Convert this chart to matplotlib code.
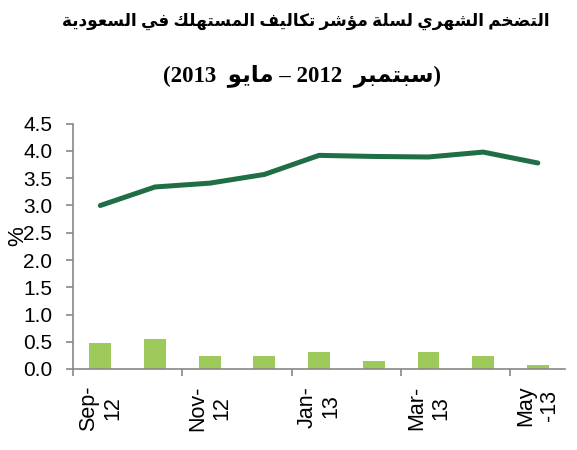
import numpy as np
import matplotlib
matplotlib.use("Agg")
import matplotlib.pyplot as plt

# data
months = ["Sep-\n12", "Oct-\n12", "Nov-\n12", "Dec-\n12", "Jan-\n13",
          "Feb-\n13", "Mar-\n13", "Apr-\n13", "May\n-13"]
monthly = [0.48, 0.55, 0.23, 0.23, 0.31, 0.15, 0.31, 0.23, 0.07]
annual = [3.00, 3.34, 3.41, 3.57, 3.92, 3.90, 3.89, 3.98, 3.78]
yticks = [0.0, 0.5, 1.0, 1.5, 2.0, 2.5, 3.0, 3.5, 4.0, 4.5]

title_words = ["التضخم", "الشهري", "لسلة", "مؤشر", "تكاليف", "المستهلك", "في", "السعودية"]
sub_from = "سبتمبر"
sub_to = "مايو"

# minimal Arabic shaping: base presentation form + number of forms
FORMS = {
    "ا": (0xFE8D, 2), "ب": (0xFE8F, 4), "ة": (0xFE93, 2), "ت": (0xFE95, 4),
    "خ": (0xFEA5, 4), "د": (0xFEA9, 2), "ر": (0xFEAD, 2), "س": (0xFEB1, 4),
    "ش": (0xFEB5, 4), "ض": (0xFEBD, 4), "ع": (0xFEC9, 4), "ف": (0xFED1, 4),
    "ك": (0xFED9, 4), "ل": (0xFEDD, 4), "م": (0xFEE1, 4), "ه": (0xFEE9, 4),
    "و": (0xFEED, 2), "ي": (0xFEF1, 4), "ؤ": (0xFE85, 2),
}


def shape(word):
    out = []
    for i, ch in enumerate(word):
        base, n = FORMS[ch]
        prev = word[i - 1] if i > 0 else None
        nxt = word[i + 1] if i + 1 < len(word) else None
        jp = prev is not None and FORMS[prev][1] == 4
        jn = n == 4 and nxt is not None
        if jp and jn:
            off = 3
        elif jp:
            off = 1
        elif jn:
            off = 2
        else:
            off = 0
        out.append(chr(base + off))
    return "".join(out)[::-1]


line1 = " ".join(shape(w) for w in title_words[::-1])
line2 = "(2013  " + shape(sub_to) + " – 2012  " + shape(sub_from) + ")"

fig = plt.figure(figsize=(5.77, 4.5), dpi=100)
ax = fig.add_axes([0.1265, 0.18, 0.853, 0.545])

x = np.arange(len(months))
ax.bar(x, monthly, width=0.4, color="#9CC95A", zorder=2)
ax.plot(x, annual, color="#1F6E45", lw=3.6, solid_capstyle="round",
        solid_joinstyle="round", zorder=3)

ax.set_xlim(-0.5, len(months) - 0.5)
ax.set_ylim(0, 4.5)
ax.set_yticks(yticks)
ax.set_yticklabels([f"{v:.1f}" for v in yticks], fontsize=15, family="Liberation Sans")

ax.set_xticks(x[::2] - 0.5)
ax.set_xticklabels([])
ax.set_xticks(x[::2], minor=True)
ax.set_xticklabels(months[::2], minor=True, rotation=90, fontsize=15.5,
                   family="Liberation Sans", multialignment="center")
ax.tick_params(axis="x", which="minor", length=0, pad=12)
ax.tick_params(axis="x", which="major", length=5, color="#888888", width=1.2)
ax.tick_params(axis="y", length=5, color="#888888", width=1.2, pad=10)

for s in ["top", "right"]:
    ax.spines[s].set_visible(False)
for s in ["left", "bottom"]:
    ax.spines[s].set_color("#888888")
    ax.spines[s].set_linewidth(1.2)

ax.set_ylabel("%", fontsize=16, family="Liberation Sans")
ax.yaxis.set_label_coords(-0.09, 0.54)

fig.text(0.53, 0.952, line1, ha="center", va="center", fontsize=12.2,
         fontweight="bold", family=["Liberation Serif", "DejaVu Sans"])
fig.text(0.523, 0.833, line2, ha="center", va="center", fontsize=16.5,
         fontweight="bold", family=["Liberation Serif", "DejaVu Sans"])

fig.savefig("out.png", dpi=100)
